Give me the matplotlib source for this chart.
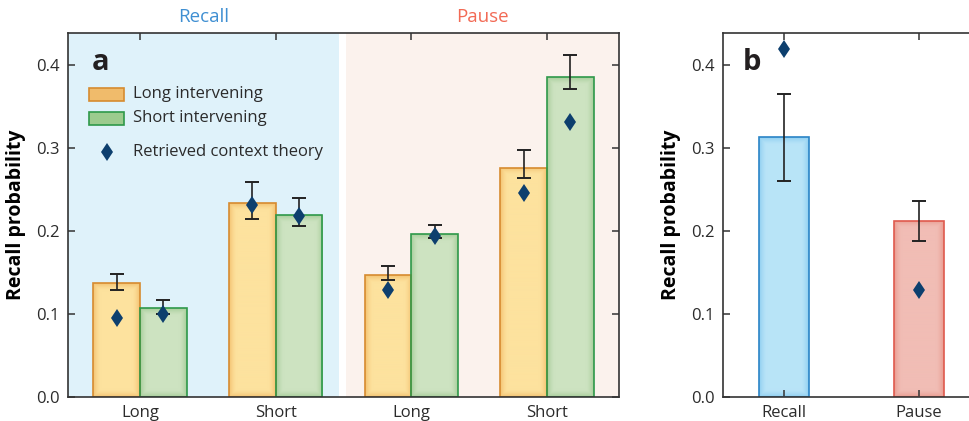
import numpy as np
import matplotlib
matplotlib.use("Agg")
import matplotlib.pyplot as plt
from matplotlib.colors import to_rgb
from matplotlib.patches import Rectangle
from matplotlib.lines import Line2D

plt.rcParams['font.family'] = ['Open Sans', 'DejaVu Sans']

# ---------------- data ----------------
conditions = ["Recall", "Pause"]
lags = ["Long", "Short"]
tick_labels_a = ["Long", "Short", "Long", "Short"]
series_names = ["Long intervening", "Short intervening"]
model_name = "Retrieved context theory"

# panel a: order = Recall-Long, Recall-Short, Pause-Long, Pause-Short
long_int = [0.137, 0.233, 0.146, 0.276]
long_int_hi = [0.148, 0.259, 0.157, 0.297]
long_int_lo = [0.129, 0.214, 0.141, 0.263]
long_int_model = [0.095, 0.231, 0.128, 0.245]

short_int = [0.107, 0.219, 0.196, 0.385]
short_int_hi = [0.117, 0.239, 0.207, 0.411]
short_int_lo = [0.100, 0.206, 0.191, 0.370]
short_int_model = [0.100, 0.218, 0.194, 0.331]

# panel b
b_values = [0.313, 0.212]
b_hi = [0.364, 0.236]
b_lo = [0.260, 0.187]
b_model = [0.419, 0.129]

# ---------------- style ----------------
C_TEXT = "#2b2b2b"
C_SPINE = "#333333"
C_MODEL = "#0d3f6e"
C_ERR = "#222222"
BG_RECALL = "#dff2fa"
BG_PAUSE = "#fbf2ed"
TITLE_RECALL = "#3f8fd2"
TITLE_PAUSE = "#f26a55"

LI_IN, LI_OUT, LI_EDGE, LI_LEG = "#fde29e", "#f3c16f", "#d68b30", "#f0bb6b"
SI_IN, SI_OUT, SI_EDGE, SI_LEG = "#cde3c1", "#a5cc98", "#2e994a", "#9ccb8e"
RE_IN, RE_OUT, RE_EDGE = "#b9e4f8", "#8ccdf0", "#2a84c6"
PA_IN, PA_OUT, PA_EDGE = "#f1bdb5", "#e99a8e", "#df5a4e"

W, H = 969, 421
fig = plt.figure(figsize=(W / 100, H / 100), dpi=100)

def fig_axes(l, r, t, b):
    return fig.add_axes([l / W, 1 - b / H, (r - l) / W, (b - t) / H])

axa = fig_axes(68, 619, 33, 396.7)
axb = fig_axes(723, 969, 33, 396.7)

YMAX = 0.438
MS = 9.5

def gradient_bar(ax, rect, inner, outer, glow=8.0):
    x0, y0 = rect.get_x(), rect.get_y()
    w, h = rect.get_width(), rect.get_height()
    (px0, py0), (px1, py1) = ax.transData.transform([(x0, y0), (x0 + w, y0 + h)])
    Wp = max(int(round(abs(px1 - px0))) * 2, 4)
    Hp = max(int(round(abs(py1 - py0))) * 2, 4)
    xx = (np.arange(Wp) + 0.5) / 2
    yy = (np.arange(Hp) + 0.5) / 2
    dx = np.minimum(xx, Wp / 2 - xx)[None, :]
    dy = np.minimum(yy, Hp / 2 - yy)[:, None]
    d = np.minimum(dx, dy)
    t = np.clip(1 - d / glow, 0, 1) ** 1.6
    ci, co = np.array(to_rgb(inner)), np.array(to_rgb(outer))
    img = ci[None, None, :] * (1 - t[..., None]) + co[None, None, :] * t[..., None]
    im = ax.imshow(img, extent=(x0, x0 + w, y0, y0 + h), origin='lower',
                   aspect='auto', interpolation='bilinear', zorder=1.5)
    im.set_clip_path(rect)

def style_axes(ax):
    for s in ax.spines.values():
        s.set_color(C_SPINE)
        s.set_linewidth(1.2)
    ax.tick_params(direction='in', length=5, width=1.1, color=C_SPINE,
                   labelsize=12, labelcolor=C_TEXT, pad=6)

# ---------------- panel a ----------------
x = np.arange(len(tick_labels_a))
bw = 0.345
axa.set_xlim(-0.53, 3.53)
axa.set_ylim(0, YMAX)
axa.set_autoscale_on(False)

axa.axvspan(-0.53, 1.47, color=BG_RECALL, zorder=0, lw=0)
axa.axvspan(1.52, 3.53, color=BG_PAUSE, zorder=0, lw=0)

bars_li = axa.bar(x - bw / 2, long_int, bw, facecolor='none', edgecolor=LI_EDGE, lw=1.2, zorder=2)
bars_si = axa.bar(x + bw / 2, short_int, bw, facecolor='none', edgecolor=SI_EDGE, lw=1.2, zorder=2)
for r in bars_li:
    gradient_bar(axa, r, LI_IN, LI_OUT)
for r in bars_si:
    gradient_bar(axa, r, SI_IN, SI_OUT)

for xs, v, hi, lo in [(x - bw / 2, long_int, long_int_hi, long_int_lo),
                      (x + bw / 2, short_int, short_int_hi, short_int_lo)]:
    v = np.array(v)
    yerr = [v - np.array(lo), np.array(hi) - v]
    axa.errorbar(xs, v, yerr=yerr, fmt='none', ecolor=C_ERR, elinewidth=1.2,
                 capsize=5, capthick=1.4, zorder=3)

axa.plot(x - bw / 2, long_int_model, ls='none', marker='d', ms=MS, mew=0, color=C_MODEL, zorder=4)
axa.plot(x + bw / 2, short_int_model, ls='none', marker='d', ms=MS, mew=0, color=C_MODEL, zorder=4)

axa.set_xticks(x)
axa.set_xticklabels(tick_labels_a)
axa.set_yticks([0.0, 0.1, 0.2, 0.3, 0.4])
axa.set_yticklabels(["0.0", "0.1", "0.2", "0.3", "0.4"])
style_axes(axa)
axa.tick_params(top=True, right=True)
axa.set_ylabel("Recall probability", fontsize=14, fontweight='bold', color='black', labelpad=7)

axa.text(0.5 * (-0.53 + 1.47), 1.018, conditions[0], transform=axa.get_xaxis_transform(),
         ha='center', va='bottom', fontsize=13.5, color=TITLE_RECALL)
axa.text(0.5 * (1.52 + 3.53), 1.018, conditions[1], transform=axa.get_xaxis_transform(),
         ha='center', va='bottom', fontsize=13.5, color=TITLE_PAUSE)

axa.text(0.043, 0.898, "a", transform=axa.transAxes, fontsize=21, fontweight='bold',
         color='#231f20', ha='left', va='baseline')

# manual legend
lx0, lw_, lh_ = 0.038, 0.0635, 0.036
for yc, fc, ec, name in [(0.831, LI_LEG, LI_EDGE, series_names[0]),
                         (0.766, SI_LEG, SI_EDGE, series_names[1])]:
    axa.add_patch(Rectangle((lx0, yc - lh_ / 2), lw_, lh_, transform=axa.transAxes,
                            facecolor=fc, edgecolor=ec, lw=1.2, zorder=5))
    axa.text(0.118, yc, name, transform=axa.transAxes, fontsize=12, color=C_TEXT,
             va='center', ha='left', zorder=5)
axa.add_line(Line2D([0.0708], [0.673], transform=axa.transAxes, ls='none', marker='d',
                    ms=MS, mew=0, color=C_MODEL, zorder=5))
axa.text(0.118, 0.673, model_name, transform=axa.transAxes, fontsize=12, color=C_TEXT,
         va='center', ha='left', zorder=5)

# ---------------- panel b ----------------
xb = np.arange(len(conditions))
bwb = 0.37
axb.set_xlim(-0.452, 1.37)
axb.set_ylim(0, YMAX)
axb.set_autoscale_on(False)
bars_b = axb.bar(xb, b_values, bwb, facecolor='none',
                 edgecolor=[RE_EDGE, PA_EDGE], lw=1.2, zorder=2)
gradient_bar(axb, bars_b[0], RE_IN, RE_OUT)
gradient_bar(axb, bars_b[1], PA_IN, PA_OUT)
bv = np.array(b_values)
axb.errorbar(xb, bv, yerr=[bv - np.array(b_lo), np.array(b_hi) - bv], fmt='none',
             ecolor=C_ERR, elinewidth=1.2, capsize=5, capthick=1.4, zorder=3)
axb.plot(xb, b_model, ls='none', marker='d', ms=MS, mew=0, color=C_MODEL, zorder=4)
axb.set_xticks(xb)
axb.set_xticklabels(conditions)
axb.set_yticks([0.0, 0.1, 0.2, 0.3, 0.4])
axb.set_yticklabels(["0.0", "0.1", "0.2", "0.3", "0.4"])
style_axes(axb)
axb.spines['right'].set_visible(False)
axb.tick_params(top=True, right=False)
axb.set_ylabel("Recall probability", fontsize=14, fontweight='bold', color='black', labelpad=7)
axb.text(0.081, 0.898, "b", transform=axb.transAxes, fontsize=21, fontweight='bold',
         color='#231f20', ha='left', va='baseline')

fig.savefig("out.png", dpi=100)
